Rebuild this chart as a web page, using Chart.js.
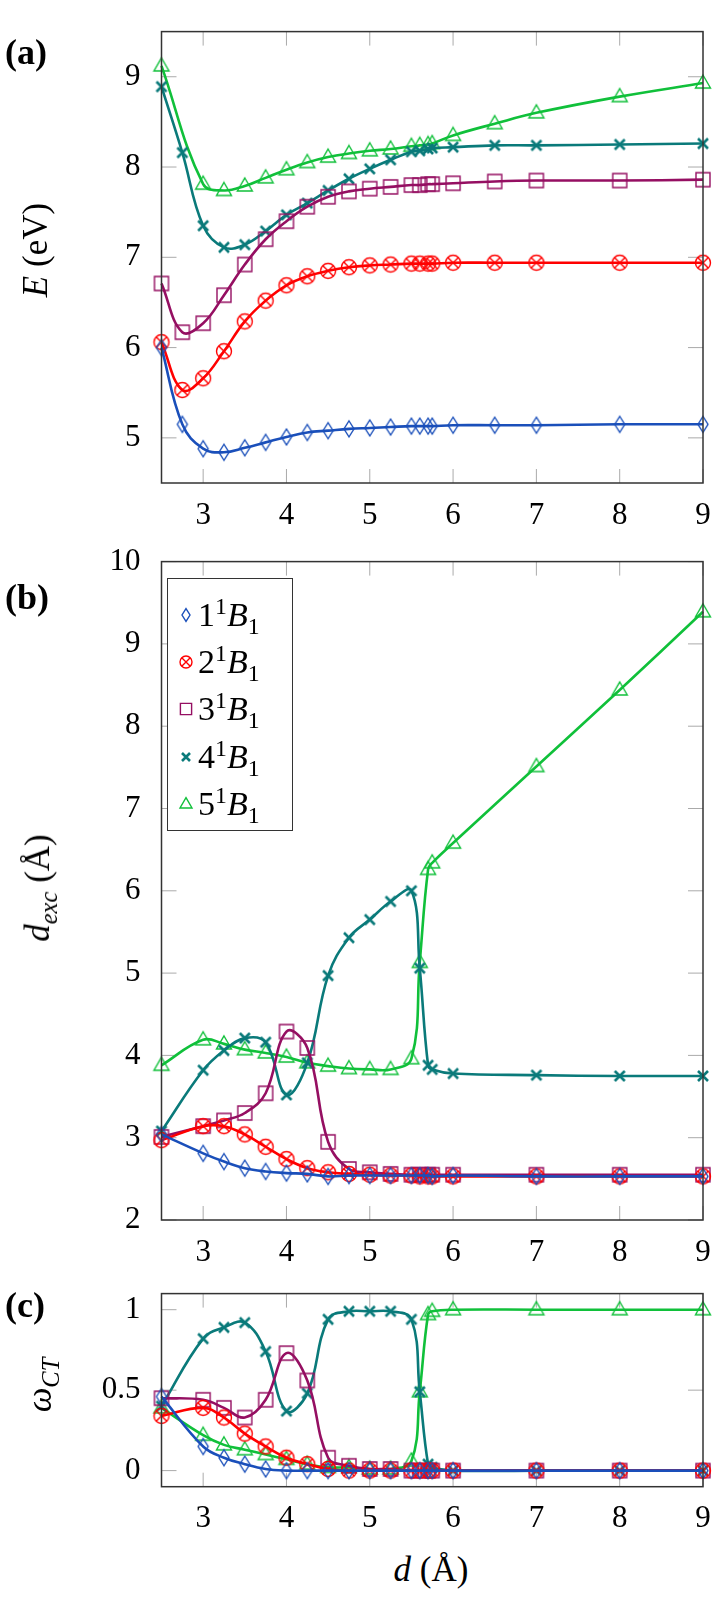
<!DOCTYPE html>
<html>
<head>
<meta charset="utf-8">
<script src="https://cdn.jsdelivr.net/npm/chart.js@4/dist/chart.umd.min.js"></script>
<style>
  body { margin: 0; background: #fff; }
  #page { position: relative; width: 722px; height: 1600px; font-family: "Liberation Serif", "DejaVu Serif", serif; color: #000; }
  canvas { position: absolute; left: 0; }
  .panel { position: absolute; left: 5px; font-size: 36px; font-weight: bold; transform: translateY(-50%); }
  .vt { position: absolute; font-size: 35px; white-space: nowrap; transform: translate(-50%, -50%) rotate(-90deg); }
  .ht { position: absolute; font-size: 35px; white-space: nowrap; transform: translate(-50%, -50%); }
  sub, sup { font-size: 0.7em; line-height: 0; }
  #legend { position: absolute; left: 167px; top: 578px; width: 124px; height: 251px; border: 1.5px solid #333; background: #fff; }
  .row { position: absolute; left: 0; height: 46px; display: flex; align-items: center; font-size: 34px; }
  .row canvas { position: static; margin: 0 2px 0 8px; }
</style>
</head>
<body>
<div id="page">
  <canvas id="chartA" width="722" height="525" style="top:0px"></canvas>
  <canvas id="chartB" width="722" height="740" style="top:530px"></canvas>
  <canvas id="chartC" width="722" height="280" style="top:1262px"></canvas>

  <div class="panel" style="top:52px">(a)</div>
  <div class="panel" style="top:597px">(b)</div>
  <div class="panel" style="top:1305px">(c)</div>

  <div class="vt" style="left:36px; top:250px"><i>E</i> (eV)</div>
  <div class="vt" style="left:38px; top:888px"><i>d</i><sub><i>exc</i></sub> (Å)</div>
  <div class="vt" style="left:40px; top:1385px"><i>ω</i><sub><i>CT</i></sub></div>
  <div class="ht" style="left:431px; top:1570px"><i>d</i> (Å)</div>

  <div id="legend"></div>
</div>

<script>
// distances d (Å); panel (a) has the extra 2.75 / 6.5 points
const distA = [2.5, 2.75, 3, 3.25, 3.5, 3.75, 4, 4.25, 4.5, 4.75, 5, 5.25, 5.5, 5.6, 5.7, 5.75, 6, 6.5, 7, 8, 9];
const distB = [2.5, 3, 3.25, 3.5, 3.75, 4, 4.25, 4.5, 4.75, 5, 5.25, 5.5, 5.6, 5.7, 5.75, 6, 7, 8, 9];

// (a) excitation energies E (eV)
const energy1 = [6.00, 5.15, 4.88, 4.84, 4.89, 4.95, 5.01, 5.06, 5.08, 5.10, 5.11, 5.12, 5.13, 5.13, 5.13, 5.13, 5.14, 5.14, 5.14, 5.15, 5.15];
const energy2 = [6.06, 5.53, 5.66, 5.96, 6.29, 6.52, 6.69, 6.79, 6.85, 6.89, 6.91, 6.92, 6.93, 6.93, 6.93, 6.93, 6.94, 6.94, 6.94, 6.94, 6.94];
const energy3 = [6.71, 6.17, 6.27, 6.58, 6.92, 7.20, 7.40, 7.56, 7.67, 7.73, 7.76, 7.78, 7.80, 7.80, 7.81, 7.81, 7.82, 7.84, 7.85, 7.85, 7.86];
const energy4 = [8.89, 8.16, 7.35, 7.11, 7.14, 7.29, 7.47, 7.60, 7.74, 7.87, 7.98, 8.08, 8.17, 8.18, 8.20, 8.21, 8.22, 8.24, 8.24, 8.25, 8.26];
const energy5 = [9.12, null, 7.81, 7.74, 7.79, 7.88, 7.97, 8.05, 8.11, 8.15, 8.18, 8.20, 8.23, 8.24, 8.25, 8.26, 8.35, 8.48, 8.60, 8.78, 8.93];

// (b) exciton size d_exc (Å)
const dexc1 = [3.04, 2.81, 2.71, 2.63, 2.59, 2.57, 2.56, 2.53, 2.54, 2.54, 2.54, 2.54, 2.54, 2.54, 2.53, 2.54, 2.53, 2.53, 2.53];
const dexc2 = [2.97, 3.14, 3.14, 3.04, 2.89, 2.74, 2.63, 2.58, 2.56, 2.55, 2.54, 2.54, 2.53, 2.53, 2.53, 2.53, 2.53, 2.53, 2.53];
const dexc3 = [3.01, 3.14, 3.21, 3.30, 3.54, 4.29, 4.09, 2.95, 2.62, 2.58, 2.56, 2.55, 2.55, 2.55, 2.55, 2.55, 2.55, 2.55, 2.55];
const dexc4 = [3.08, 3.82, 4.06, 4.21, 4.16, 3.52, 3.91, 4.97, 5.43, 5.65, 5.87, 6.00, 5.06, 3.88, 3.83, 3.78, 3.76, 3.75, 3.75];
const dexc5 = [3.88, 4.19, 4.14, 4.07, 4.03, 3.98, 3.91, 3.87, 3.84, 3.83, 3.83, 3.96, 5.13, 6.26, 6.34, 6.58, 7.51, 8.44, 9.39];

// (c) charge-transfer weight
const wct1 = [0.46, 0.15, 0.08, 0.04, 0.01, 0.00, 0.00, 0.00, 0.00, 0.00, 0.00, 0.00, 0.00, 0.00, 0.00, 0.00, 0.00, 0.00, 0.00];
const wct2 = [0.34, 0.39, 0.33, 0.23, 0.15, 0.08, 0.04, 0.01, 0.00, 0.00, 0.00, 0.00, 0.00, 0.00, 0.00, 0.00, 0.00, 0.00, 0.00];
const wct3 = [0.45, 0.44, 0.39, 0.33, 0.44, 0.73, 0.56, 0.08, 0.03, 0.01, 0.01, 0.00, 0.00, 0.00, 0.00, 0.00, 0.00, 0.00, 0.00];
const wct4 = [0.40, 0.82, 0.89, 0.92, 0.74, 0.37, 0.48, 0.94, 0.99, 0.99, 0.99, 0.94, 0.49, 0.04, 0.02, 0.00, 0.00, 0.00, 0.00];
const wct5 = [0.39, 0.22, 0.16, 0.13, 0.10, 0.07, 0.04, 0.02, 0.02, 0.01, 0.01, 0.06, 0.49, 0.97, 0.99, 1.00, 1.00, 1.00, 1.00];

// ticks
const xTicks = [3, 4, 5, 6, 7, 8, 9];
const energyTicks = [5, 6, 7, 8, 9];
const dexcTicks = [2, 3, 4, 5, 6, 7, 8, 9, 10];
const wctTicks = [0, 0.5, 1];

const states = ['1', '2', '3', '4', '5'];
const colors = ['#1a4fba', '#ff0000', '#950f62', '#0a7a7a', '#10c03a'];
const markers = ['diamond', 'otimes', 'square', 'x', 'triangle'];

// pgfplots-like open markers drawn on small canvases
const makeMarker = (kind, color, k = 1) => {
  const c = document.createElement('canvas');
  c.width = 20; c.height = 20;
  const g = c.getContext('2d');
  const m = 10;
  g.strokeStyle = color;
  g.lineWidth = 1.4;
  g.beginPath();
  if (kind === 'diamond') {
    g.moveTo(m, m - 8 * k); g.lineTo(m + 5 * k, m); g.lineTo(m, m + 8 * k); g.lineTo(m - 5 * k, m); g.closePath();
  } else if (kind === 'otimes') {
    const r = 7.5 * k;
    g.arc(m, m, r, 0, Math.PI * 2);
    const d = r * Math.SQRT1_2;
    g.moveTo(m - d, m - d); g.lineTo(m + d, m + d);
    g.moveTo(m + d, m - d); g.lineTo(m - d, m + d);
  } else if (kind === 'square') {
    g.rect(m - 7 * k, m - 7 * k, 14 * k, 14 * k);
  } else if (kind === 'x') {
    g.lineWidth = 2.6;
    g.moveTo(m - 5 * k, m - 5 * k); g.lineTo(m + 5 * k, m + 5 * k);
    g.moveTo(m + 5 * k, m - 5 * k); g.lineTo(m - 5 * k, m + 5 * k);
  } else {
    g.moveTo(m, m - 8 * k); g.lineTo(m + 7.5 * k, m + 5 * k); g.lineTo(m - 7.5 * k, m + 5 * k); g.closePath();
  }
  g.stroke();
  return c;
};

// frame + inward tick marks on all four sides
const framePlugin = {
  id: 'frame',
  beforeDatasetsDraw(chart, args, opts) {
    const { ctx, chartArea: a, scales } = chart;
    ctx.save();
    ctx.strokeStyle = '#aaaaaa';
    ctx.lineWidth = 1;
    ctx.beginPath();
    xTicks.forEach(v => {
      const px = scales.x.getPixelForValue(v);
      ctx.moveTo(px, a.bottom); ctx.lineTo(px, a.bottom - 14);
      ctx.moveTo(px, a.top); ctx.lineTo(px, a.top + 14);
    });
    opts.yTicks.forEach(v => {
      const py = scales.y.getPixelForValue(v);
      ctx.moveTo(a.left, py); ctx.lineTo(a.left + 15, py);
      ctx.moveTo(a.right, py); ctx.lineTo(a.right - 15, py);
    });
    ctx.stroke();
    ctx.restore();
  },
  afterDatasetsDraw(chart) {
    const { ctx, chartArea: a } = chart;
    ctx.save();
    ctx.strokeStyle = '#333';
    ctx.lineWidth = 1.5;
    ctx.strokeRect(a.left, a.top, a.right - a.left, a.bottom - a.top);
    ctx.restore();
  }
};

const tickFont = { family: '"Liberation Serif", "DejaVu Serif", serif', size: 31 };

const makePanel = (id, xs, series, yMin, yMax, yTicks, padTop, xAxisHeight) => {
  const datasets = series.map((ys, i) => ({
    data: xs.map((x, j) => ({ x, y: ys[j] })),
    borderColor: colors[i],
    borderWidth: 2.6,
    pointStyle: makeMarker(markers[i], colors[i]),
    pointRadius: 8,
    tension: 0.4,
    spanGaps: true,
    clip: false
  }));

  return new Chart(document.getElementById(id), {
    type: 'line',
    data: { datasets },
    plugins: [framePlugin],
    options: {
      responsive: false,
      animation: false,
      layout: { padding: { top: padTop, right: 19, left: 0, bottom: 0 } },
      plugins: {
        legend: { display: false },
        tooltip: { enabled: false },
        frame: { yTicks }
      },
      scales: {
        x: {
          type: 'linear',
          min: 2.5,
          max: 9,
          grid: { display: false },
          border: { display: false },
          afterBuildTicks: s => { s.ticks = xTicks.map(v => ({ value: v })); },
          afterFit: s => { s.height = xAxisHeight; },
          ticks: { font: tickFont, color: '#000', padding: 6, maxRotation: 0 }
        },
        y: {
          min: yMin,
          max: yMax,
          grid: { display: false },
          border: { display: false },
          afterBuildTicks: s => { s.ticks = yTicks.map(v => ({ value: v })); },
          afterFit: s => { s.width = 161.5; },
          ticks: { font: tickFont, color: '#000', padding: 13, callback: v => String(v) }
        }
      }
    }
  });
};

makePanel('chartA', distA, [energy1, energy2, energy3, energy4, energy5], 4.5, 9.5, energyTicks, 12, 42);
makePanel('chartB', distB, [dexc1, dexc2, dexc3, dexc4, dexc5], 2, 10, dexcTicks, 28.3, 50);
makePanel('chartC', distB, [wct1, wct2, wct3, wct4, wct5], -0.1, 1.1, wctTicks, 13, 55.3);

// legend for panel (b)
const legend = document.getElementById('legend');
states.forEach((n, i) => {
  const row = document.createElement('div');
  row.className = 'row';
  row.style.top = (13 + i * 47.2) + 'px';
  row.appendChild(makeMarker(markers[i], colors[i], 0.8));
  const label = document.createElement('span');
  label.innerHTML = `${n}<sup>1</sup><i>B</i><sub>1</sub>`;
  row.appendChild(label);
  legend.appendChild(row);
});
</script>
</body>
</html>
